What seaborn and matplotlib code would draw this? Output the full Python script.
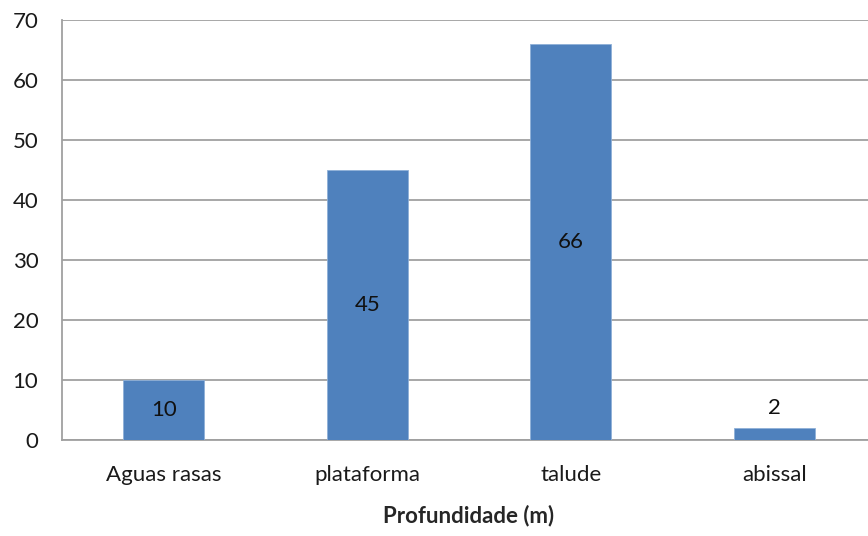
import matplotlib
matplotlib.use("Agg")
import matplotlib.pyplot as plt
import seaborn as sns
import pandas as pd

# datos
categorias = ["Aguas rasas", "plataforma", "talude", "abissal"]
valores = [10, 45, 66, 2]

sns.set_theme(style="white")
plt.rcParams['font.family'] = ['Lato', 'DejaVu Sans']

df = pd.DataFrame({"cat": categorias, "val": valores})

fig = plt.figure(figsize=(8.68, 5.36), dpi=100)
ax = fig.add_axes([62 / 868, 96 / 536, 814 / 868, 420 / 536])

sns.barplot(data=df, x="cat", y="val", color="#4F81BD", saturation=1,
            width=0.4, ax=ax, zorder=3, edgecolor="#8fb0d8", linewidth=0.6)

gris = "#a0a0a0"
ax.set_ylim(0, 70)
ax.set_xlim(-0.5, len(categorias) - 0.5)
ax.set_yticks(range(0, 71, 10))
ax.yaxis.grid(True, color=gris, linewidth=1.3, zorder=0)
ax.set_axisbelow(True)

for s in ["top", "right"]:
    ax.spines[s].set_visible(False)
for s in ["left", "bottom"]:
    ax.spines[s].set_color(gris)
    ax.spines[s].set_linewidth(1.3)

# ticks del eje x en los límites de las categorías
ax.set_xticks([i - 0.5 for i in range(len(categorias) + 1)], minor=False)
ax.set_xticklabels([])
ax.set_xticks(range(len(categorias)), minor=True)
ax.set_xticklabels(categorias, minor=True, fontsize=16, color="#1a1a1a")
ax.tick_params(axis="x", which="major", length=6, width=1.3, color=gris)
ax.tick_params(axis="x", which="minor", length=0, pad=18)
ax.tick_params(axis="y", length=6, width=1.3, color=gris, pad=11,
               labelsize=16, labelcolor="#1a1a1a")

# etiquetas de valor
for i, v in enumerate(valores):
    y = v / 2 if v > 5 else v + 3.3
    ax.text(i, y, str(v), ha="center", va="center", fontsize=16, color="#111111")

ax.set_xlabel("Profundidade (m)", fontsize=16, fontweight="bold", labelpad=14)
ax.set_ylabel("")

fig.savefig("out.png", dpi=100)
